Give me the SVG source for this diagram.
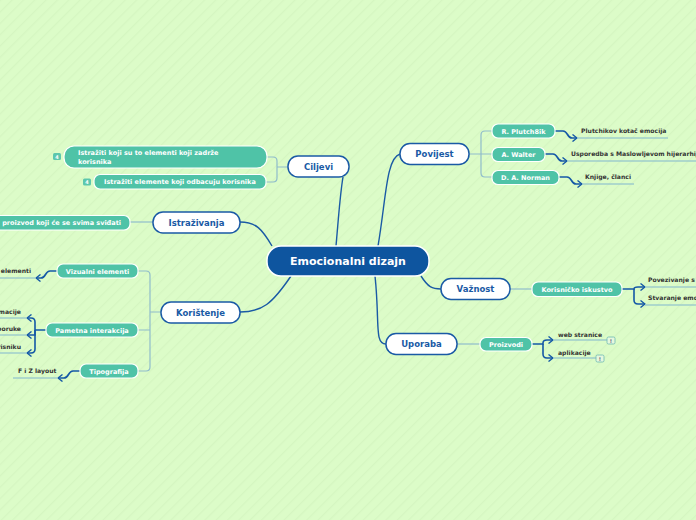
<svg xmlns="http://www.w3.org/2000/svg" width="696" height="520" viewBox="0 0 696 520">
<defs>
<pattern id="bg" width="8" height="8" patternUnits="userSpaceOnUse" patternTransform="rotate(45)">
<rect width="8" height="8" fill="#dcfcc8"/>
<rect width="1.2" height="8" fill="#d5f6c1"/>
</pattern>
<marker id="ah" viewBox="0 0 6 8" refX="5" refY="4" markerWidth="6" markerHeight="8" markerUnits="userSpaceOnUse" orient="auto">
<path d="M0.5,0.5 L5,4 L0.5,7.5" fill="none" stroke="#1458a6" stroke-width="1.4"/>
</marker>
<style>
text{font-family:"DejaVu Sans","Liberation Sans",sans-serif;font-weight:bold}
.main{fill:#0e559f;stroke:#ffffff;stroke-width:1.5}
.l1{fill:#ffffff;stroke:#1a5aa5;stroke-width:1.5}
.l1t{fill:#1a5aa5;font-size:8.5px;text-anchor:middle}
.tn{fill:#4fc3a7;stroke:#ffffff;stroke-width:1.2}
.tt{fill:#ffffff;font-size:6.5px}
.lf{fill:#333333;font-size:6.1px}
.ctr{text-anchor:middle}
.cm{fill:none;stroke:#1a5aa5;stroke-width:1.4}
.lt{fill:none;stroke:#8fbccb;stroke-width:1.2}
.ar{fill:none;stroke:#1458a6;stroke-width:1.6}
.ul{fill:none;stroke:#9fcdcc;stroke-width:1.6}
</style>
</defs>
<rect width="696" height="520" fill="url(#bg)"/>

<g id="connectors">
<path class="cm" d="M336,246 C339,212 340,195 343,177"/>
<path class="cm" d="M378,246 C386,200 386,158 400,154"/>
<path class="cm" d="M272,246 C262,229 256,222 240,222"/>
<path class="cm" d="M291,276 C272,304 262,312 240,312"/>
<path class="cm" d="M421,276 C428,287 432,289 441,289"/>
<path class="cm" d="M375,276 C380,322 374,344 386,344"/>

<path class="lt" d="M288,167 H277 M267,157 H273 Q277,157 277,161 V178 Q277,182 273,182 H266"/>
<path class="lt" d="M153,222 H130"/>
<path class="lt" d="M161,312 H150 M138,271 H146 Q150,271 150,275 V367 Q150,371 146,371 H138 M138,330 H150"/>
<path class="lt" d="M469,154 H492 M492,131 H485 Q481,131 481,135 V173 Q481,177 485,177 H492"/>
<path class="lt" d="M510,289 H532"/>
<path class="lt" d="M457,344 H480"/>

<path class="ar" marker-end="url(#ah)" d="M555,131 H563 C568,131 567,138 572,138 H577"/>
<path class="ar" marker-end="url(#ah)" d="M545,154 H553 C558,154 557,161 562,161 H567"/>
<path class="ar" marker-end="url(#ah)" d="M559,177 H567 C572,177 571,184 576,184 H582"/>
<path class="ar" marker-end="url(#ah)" d="M622,289 H634 Q634,287 638,287 H645"/>
<path class="ar" marker-end="url(#ah)" d="M634,289 V300 Q634,304 638,304 H645"/>
<path class="ar" marker-end="url(#ah)" d="M532,344 H543 V343 Q543,340 547,340 H553"/>
<path class="ar" marker-end="url(#ah)" d="M543,344 V354 Q543,358 547,358 H553"/>
<path class="ar" marker-end="url(#ah)" d="M57,271 H50 C45,271 46,278 41,278 H36"/>
<path class="ar" marker-end="url(#ah)" d="M46,330 H35 V322 Q35,318 31,318 H27"/>
<path class="ar" marker-end="url(#ah)" d="M35,330 V335 H27"/>
<path class="ar" marker-end="url(#ah)" d="M35,330 V349 Q35,353 31,353 H27"/>
<path class="ar" marker-end="url(#ah)" d="M80,371 H73 C68,371 69,378 64,378 H58"/>

<path class="ul" d="M577,138 H668 M567,161 H696 M582,184 H634 M645,287 H696 M645,305 H696 M553,340 H607 M553,358 H596 M0,278 H36 M0,318 H27 M0,335 H27 M0,353 H27 M13,378 H58"/>
</g>

<g id="n-main">
<rect class="main" x="267" y="246" width="162" height="30" rx="14"/>
<text x="348" y="265" class="ctr" fill="#ffffff" font-size="11">Emocionalni dizajn</text>
</g>

<g id="n-ciljevi">
<rect class="l1" x="288" y="156" width="61" height="21" rx="10"/>
<text x="318.5" y="169.5" class="l1t">Ciljevi</text>
</g>
<g id="n-povijest">
<rect class="l1" x="400" y="143.5" width="69" height="21" rx="10"/>
<text x="434.5" y="157" class="l1t">Povijest</text>
</g>
<g id="n-vaznost">
<rect class="l1" x="441" y="278.5" width="69" height="21" rx="10"/>
<text x="475.5" y="292" class="l1t">Važnost</text>
</g>
<g id="n-uporaba">
<rect class="l1" x="386" y="333.5" width="71" height="21" rx="10"/>
<text x="421.5" y="347" class="l1t">Uporaba</text>
</g>
<g id="n-istrazivanja">
<rect class="l1" x="153" y="212" width="87" height="21" rx="10"/>
<text x="196.5" y="225.5" class="l1t">Istraživanja</text>
</g>
<g id="n-koristenje">
<rect class="l1" x="161" y="302" width="79" height="21" rx="10"/>
<text x="200.5" y="315.5" class="l1t">Korištenje</text>
</g>

<g id="n-c1">
<rect class="tn" x="64" y="146" width="203" height="22" rx="10"/>
<text x="78" y="155" class="tt">Istražiti koji su to elementi koji zadrže</text>
<text x="78" y="163.5" class="tt">korisnika</text>
<rect x="53" y="153" width="8" height="7" rx="1.5" fill="#5cc7ad"/>
<text x="57" y="158.5" class="ctr" fill="#ffffff" font-size="5">4</text>
</g>
<g id="n-c2">
<rect class="tn" x="94" y="174.5" width="172" height="14.5" rx="6"/>
<text x="104" y="184" class="tt">Istražiti elemente koji odbacuju korisnika</text>
<rect x="83" y="178.5" width="8" height="7" rx="1.5" fill="#5cc7ad"/>
<text x="87" y="184" class="ctr" fill="#ffffff" font-size="5">4</text>
</g>
<g id="n-i1">
<rect class="tn" x="-20" y="215.5" width="150" height="14.5" rx="6"/>
<text x="121" y="225" class="tt" text-anchor="end">proizvod koji će se svima sviđati</text>
</g>

<g id="n-k1">
<rect class="tn" x="57" y="264" width="81" height="14" rx="6"/>
<text x="97.5" y="273.5" class="tt ctr">Vizualni elementi</text>
</g>
<g id="n-k2">
<rect class="tn" x="46" y="323" width="92" height="14" rx="6"/>
<text x="92" y="332.5" class="tt ctr">Pametna interakcija</text>
</g>
<g id="n-k3">
<rect class="tn" x="80" y="364" width="58" height="14" rx="6"/>
<text x="109" y="373.5" class="tt ctr">Tipografija</text>
</g>

<g id="n-p1">
<rect class="tn" x="492" y="124" width="63" height="14" rx="6"/>
<text x="523.5" y="133.5" class="tt ctr">R. Plutch8ik</text>
</g>
<g id="n-p2">
<rect class="tn" x="492" y="147.5" width="53" height="14" rx="6"/>
<text x="518.5" y="157" class="tt ctr">A. Walter</text>
</g>
<g id="n-p3">
<rect class="tn" x="492" y="170.5" width="67" height="14" rx="6"/>
<text x="525.5" y="180" class="tt ctr">D. A. Norman</text>
</g>
<g id="n-v1">
<rect class="tn" x="532" y="282" width="90" height="14.5" rx="6"/>
<text x="577" y="291.5" class="tt ctr">Korisničko iskustvo</text>
</g>
<g id="n-u1">
<rect class="tn" x="480" y="337.5" width="52" height="13.5" rx="6"/>
<text x="506" y="346.8" class="tt ctr">Proizvodi</text>
</g>

<g id="leaves">
<text x="581" y="133" class="lf">Plutchikov kotač emocija</text>
<text x="571" y="156" class="lf">Usporedba s Maslowljevom hijerarhij</text>
<text x="585" y="179" class="lf">Knjige, članci</text>
<text x="648" y="282" class="lf">Povezivanje s</text>
<text x="648" y="300" class="lf">Stvaranje emo</text>
<text x="558" y="337" class="lf">web stranice</text>
<text x="558" y="355" class="lf">aplikacije</text>
<text x="31" y="273" class="lf" text-anchor="end">elementi</text>
<text x="21" y="314" class="lf" text-anchor="end">macije</text>
<text x="21" y="331" class="lf" text-anchor="end">poruke</text>
<text x="21" y="349" class="lf" text-anchor="end">risniku</text>
<text x="18" y="373" class="lf">F i Z layout</text>
<rect x="607" y="337" width="8" height="7" rx="1.5" fill="#e6f8dd" stroke="#6bb7b2" stroke-width="0.8"/>
<text x="611" y="342.5" class="ctr" fill="#557" font-size="5">!</text>
<rect x="596" y="355" width="8" height="7" rx="1.5" fill="#e6f8dd" stroke="#6bb7b2" stroke-width="0.8"/>
<text x="600" y="360.5" class="ctr" fill="#557" font-size="5">!</text>
</g>
</svg>
